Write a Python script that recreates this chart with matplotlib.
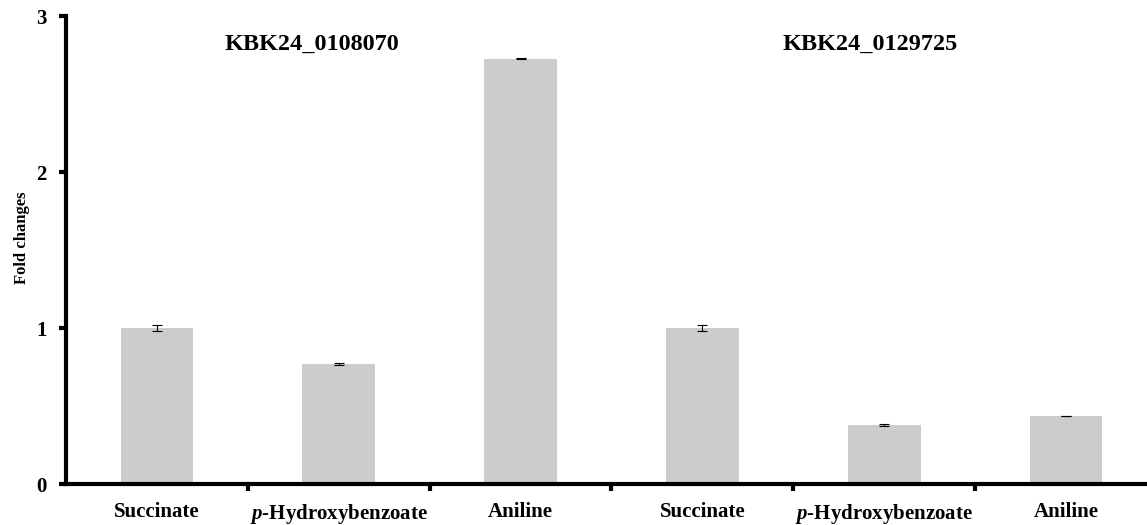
import numpy as np
import matplotlib
matplotlib.use('Agg')
import matplotlib.pyplot as plt

# data
labels = ['Succinate', r'$\bfit{p}$-Hydroxybenzoate', 'Aniline',
          'Succinate', r'$\bfit{p}$-Hydroxybenzoate', 'Aniline']
fold = [1.0, 0.77, 2.725, 1.0, 0.378, 0.436]
err = [0.018, 0.007, 0.003, 0.022, 0.009, 0.003]
genes = ['KBK24_0108070', 'KBK24_0129725']

plt.rcParams['font.family'] = ['Liberation Serif', 'DejaVu Serif']
plt.rcParams['font.weight'] = 'bold'
plt.rcParams['mathtext.fontset'] = 'custom'
plt.rcParams['mathtext.bfit'] = 'Liberation Serif:bold:italic'

W, H = 1147, 525
fig = plt.figure(figsize=(W / 100, H / 100), dpi=100)
ax = fig.add_axes([66 / W, (H - 484) / H, (1157 - 66) / W, (484 - 16) / H])

x = np.arange(len(fold))
ax.bar(x, fold, width=0.4, color='#cccccc', yerr=err,
       error_kw=dict(ecolor='black', elinewidth=0.8, capsize=3.5, capthick=0.8))

ax.set_xlim(-0.5, 5.5)
ax.set_ylim(0, 3)
ax.set_yticks([0, 1, 2, 3])
ax.set_xticks(x)
ax.set_xticklabels(labels, fontsize=15, fontweight='bold')
ax.set_xticks(np.arange(0.5, 5.5, 1.0), minor=True)
ax.tick_params(axis='x', which='major', length=0, pad=13)
ax.tick_params(axis='x', which='minor', length=5, width=3, direction='out')
ax.tick_params(axis='y', length=5, width=3, labelsize=15, pad=9)
for t in ax.get_yticklabels():
    t.set_fontweight('bold')

for side in ['top', 'right']:
    ax.spines[side].set_visible(False)
for side in ['left', 'bottom']:
    ax.spines[side].set_linewidth(3)

ax.set_ylabel('Fold changes', fontsize=12, fontweight='bold')
ax.yaxis.set_label_coords(-36 / (1157 - 66), (484 - 238) / (484 - 16))

ax.text(0.85, 2.82, genes[0], ha='center', va='center', fontsize=17.5, fontweight='bold')
ax.text(3.92, 2.82, genes[1], ha='center', va='center', fontsize=17.5, fontweight='bold')

fig.savefig('out.png', dpi=100)
